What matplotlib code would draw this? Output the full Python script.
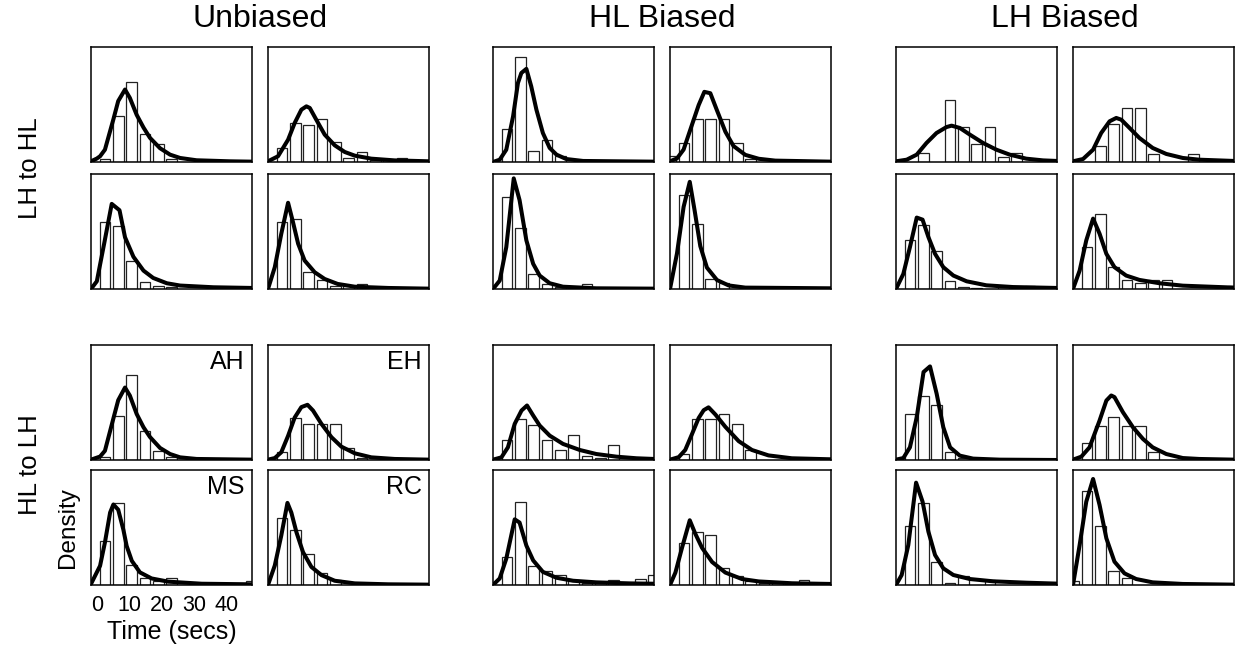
import matplotlib
matplotlib.use("Agg")
import matplotlib.pyplot as plt
import numpy as np

plt.rcParams['font.family'] = ['Liberation Sans', 'DejaVu Sans']

# ---------------- data ----------------
column_groups = ["Unbiased", "HL Biased", "LH Biased"]
row_groups = ["LH to HL", "HL to LH"]
subjects = ["AH", "EH", "MS", "RC"]          # 2x2 layout inside each block
x_ticks = [0, 10, 20, 30, 40]
x_label = "Time (secs)"
y_label = "Density"

# histogram bins (secs): bin index -1 .. 11
bin_width = 4.12
bin_centers = [2.5 + bin_width * k for k in range(-1, 12)]

# bar heights (relative density), one 13-value list per subject [AH, EH, MS, RC]
unbiased_lh_hl_bars = [
    [0, 0.03, 0.40, 0.70, 0.24, 0.16, 0.03, 0, 0, 0, 0, 0, 0],
    [0, 0.12, 0.34, 0.32, 0.37, 0.17, 0.035, 0.087, 0.02, 0.014, 0.035, 0, 0],
    [0, 0.58, 0.55, 0.245, 0.06, 0.03, 0.015, 0, 0, 0, 0.015, 0, 0],
    [0, 0.58, 0.61, 0.15, 0.08, 0.03, 0.03, 0.04, 0, 0, 0, 0, 0],
]
unbiased_hl_lh_bars = [
    [0, 0.03, 0.38, 0.74, 0.25, 0.076, 0.023, 0, 0, 0, 0, 0, 0],
    [0, 0.073, 0.366, 0.314, 0.314, 0.314, 0.105, 0.02, 0, 0, 0, 0, 0],
    [0, 0.38, 0.71, 0.175, 0.057, 0.037, 0.057, 0, 0, 0, 0, 0, 0.037],
    [0, 0.585, 0.48, 0.27, 0.106, 0.043, 0, 0, 0, 0, 0, 0, 0],
]
hlbiased_lh_hl_bars = [
    [0, 0.29, 0.913, 0.096, 0.194, 0.05, 0, 0, 0, 0, 0, 0, 0],
    [0.053, 0.161, 0.372, 0.372, 0.372, 0.161, 0.022, 0, 0, 0, 0, 0, 0],
    [0, 0.796, 0.534, 0.131, 0.044, 0.015, 0, 0.044, 0, 0, 0, 0, 0],
    [0, 0.817, 0.565, 0.09, 0.053, 0, 0, 0, 0, 0, 0, 0, 0],
]
hlbiased_hl_lh_bars = [
    [0, 0.177, 0.358, 0.308, 0.177, 0.087, 0.218, 0.038, 0.017, 0.131, 0, 0, 0],
    [0, 0.05, 0.356, 0.356, 0.40, 0.313, 0.087, 0, 0, 0, 0, 0, 0],
    [0, 0.243, 0.723, 0.163, 0.123, 0.086, 0.043, 0.014, 0.014, 0.04, 0.014, 0.05, 0.086],
    [0, 0.369, 0.458, 0.431, 0.148, 0.077, 0.037, 0.02, 0.02, 0.02, 0.046, 0, 0],
]
lhbiased_lh_hl_bars = [
    [0, 0, 0.075, 0, 0.536, 0.307, 0.154, 0.307, 0.04, 0.075, 0, 0, 0],
    [0, 0, 0.136, 0.33, 0.47, 0.47, 0.07, 0, 0, 0.07, 0, 0, 0],
    [0, 0.429, 0.56, 0.33, 0.067, 0.02, 0.01, 0, 0.03, 0, 0.03, 0, 0],
    [0, 0.364, 0.65, 0.195, 0.082, 0.052, 0.082, 0.082, 0, 0, 0, 0, 0.023],
]
lhbiased_hl_lh_bars = [
    [0, 0.40, 0.56, 0.48, 0.073, 0.015, 0, 0, 0, 0, 0, 0, 0],
    [0, 0.145, 0.30, 0.378, 0.30, 0.30, 0.073, 0, 0, 0, 0, 0, 0],
    [0, 0.516, 0.716, 0.203, 0.02, 0.081, 0, 0.046, 0, 0, 0, 0, 0],
    [0.035, 0.817, 0.516, 0.125, 0.064, 0, 0, 0, 0, 0, 0, 0, 0],
]

# fitted density curves: time points (secs) and density values per subject
unbiased_lh_hl_curve_t = [
    [-1.8, 0, 1.0, 2.5, 5.1, 6.6, 8.7, 10.2, 12.3, 14.4, 16.4, 19.5, 22.6, 25.7, 30.8, 41.1, 48],
    [-1.8, 1.3, 4.4, 6.45, 8.5, 10.05, 11.1, 13.1, 15.7, 18.8, 21.9, 25, 30.1, 37.3, 48],
    [-1.8, 0, 2.3, 4.6, 7.0, 8.7, 11.3, 14.4, 17.4, 21.6, 25.7, 36, 48],
    [-1.8, 0.3, 2.3, 4.4, 5.9, 7.5, 9.5, 12.6, 15.7, 19.7, 25, 35.3, 48],
]
unbiased_lh_hl_curve_d = [
    [0.006, 0.03, 0.05, 0.107, 0.37, 0.53, 0.63, 0.557, 0.41, 0.30, 0.21, 0.12, 0.064, 0.035, 0.015, 0.006, 0.003],
    [0.006, 0.05, 0.194, 0.34, 0.455, 0.484, 0.47, 0.368, 0.238, 0.145, 0.087, 0.055, 0.029, 0.014, 0.006],
    [0, 0.067, 0.40, 0.74, 0.685, 0.45, 0.28, 0.16, 0.096, 0.05, 0.03, 0.015, 0.009],
    [0, 0.19, 0.48, 0.75, 0.583, 0.394, 0.248, 0.146, 0.087, 0.044, 0.02, 0.009, 0.003],
]
unbiased_hl_lh_curve_t = [
    [-1.8, 1.0, 2.5, 5.1, 6.6, 8.7, 10.2, 12.3, 14.4, 16.4, 19.5, 22.6, 25.7, 30.8, 48],
    [-1.8, 0.3, 2.3, 4.4, 6.45, 8.5, 10.4, 12.1, 14.7, 17.8, 20.85, 25, 30.1, 37.3, 48],
    [-1.8, 1.0, 2.5, 4.1, 5.1, 6.6, 8.2, 9.2, 10.8, 13.3, 16.9, 22.1, 32.4, 47.8],
    [-1.8, 0.3, 2.3, 4.2, 5.4, 7.0, 9.0, 11.6, 14.7, 18.8, 25, 35.3, 48],
]
unbiased_hl_lh_curve_d = [
    [0.003, 0.03, 0.08, 0.36, 0.52, 0.63, 0.56, 0.40, 0.285, 0.20, 0.105, 0.052, 0.023, 0.009, 0.003],
    [0.003, 0.017, 0.067, 0.21, 0.37, 0.46, 0.48, 0.43, 0.314, 0.198, 0.116, 0.058, 0.023, 0.009, 0.003],
    [0.009, 0.167, 0.37, 0.63, 0.70, 0.655, 0.48, 0.34, 0.21, 0.11, 0.057, 0.029, 0.011, 0.006],
    [0, 0.17, 0.43, 0.714, 0.63, 0.457, 0.286, 0.157, 0.086, 0.037, 0.014, 0.006, 0.003],
]
hlbiased_lh_hl_curve_t = [
    [-1.8, 0.27, 2.3, 4.4, 5.9, 6.95, 8.5, 10.0, 11.6, 13.6, 15.7, 17.8, 20.8, 26, 47.9],
    [-1.8, 0.36, 2.4, 5.0, 7.05, 8.8, 10.65, 12.7, 15.3, 17.8, 21.45, 25.6, 30.7, 47.9],
    [-1.8, 0.27, 2.3, 4.6, 6.4, 8.5, 10.6, 12.6, 15.7, 19.8, 30.1, 47.9],
    [-1.8, 0.36, 2.4, 4.3, 5.8, 7.55, 9.6, 12.7, 16.3, 21.45, 47.9],
]
hlbiased_lh_hl_curve_d = [
    [0, 0.02, 0.107, 0.397, 0.687, 0.774, 0.81, 0.658, 0.455, 0.252, 0.122, 0.064, 0.026, 0.009, 0.003],
    [0.006, 0.031, 0.108, 0.325, 0.495, 0.61, 0.598, 0.449, 0.263, 0.139, 0.062, 0.028, 0.012, 0.003],
    [0, 0.073, 0.364, 0.962, 0.773, 0.423, 0.219, 0.117, 0.05, 0.02, 0.006, 0.003],
    [0, 0.31, 0.714, 0.932, 0.683, 0.373, 0.186, 0.078, 0.031, 0.012, 0.006],
]
hlbiased_hl_lh_curve_t = [
    [-1.8, 0.8, 2.8, 4.9, 7.0, 8.7, 10.6, 12.6, 15.7, 19.8, 25, 30.1, 36.3, 42.5, 47.9],
    [-1.8, 0.9, 2.9, 5.0, 7.05, 8.6, 10.1, 12.2, 15.3, 19.4, 23.5, 28.6, 35.8, 47.9],
    [-1.8, 0.27, 2.3, 4.9, 6.4, 8.5, 10.6, 13.6, 17.8, 22.9, 30.1, 40.4, 47.9],
    [-1.8, -0.13, 1.9, 4.3, 6.0, 8.1, 11.2, 15.3, 20.4, 25.6, 35.9, 47.9],
]
hlbiased_hl_lh_curve_d = [
    [0.003, 0.023, 0.11, 0.314, 0.43, 0.474, 0.387, 0.30, 0.212, 0.14, 0.087, 0.052, 0.029, 0.015, 0.009],
    [0.003, 0.025, 0.087, 0.226, 0.365, 0.433, 0.458, 0.396, 0.288, 0.164, 0.087, 0.04, 0.015, 0.006],
    [0, 0.057, 0.229, 0.571, 0.543, 0.343, 0.214, 0.114, 0.063, 0.037, 0.023, 0.014, 0.011],
    [0, 0.108, 0.323, 0.563, 0.446, 0.323, 0.2, 0.108, 0.052, 0.031, 0.015, 0.009],
]
lhbiased_lh_hl_curve_t = [
    [-1.8, 1.5, 4.6, 7.6, 10.7, 13.8, 15.35, 17.9, 21.0, 25.1, 29.2, 33.3, 38.4, 43.6, 47.9],
    [-1.8, 1.3, 4.4, 6.9, 9.5, 11.55, 13.1, 15.65, 18.7, 22.8, 27, 32.1, 37.2, 48],
    [-1.8, 0.46, 2.5, 4.6, 6.4, 8.2, 10.25, 12.8, 15.9, 20, 26.1, 34.3, 47.9],
    [-1.8, 0.25, 2.3, 4.4, 6.4, 8.5, 11.0, 14.6, 18.7, 24.9, 32.1, 48],
]
lhbiased_lh_hl_curve_d = [
    [0.006, 0.02, 0.064, 0.165, 0.252, 0.304, 0.316, 0.296, 0.238, 0.165, 0.107, 0.064, 0.029, 0.014, 0.009],
    [0.006, 0.026, 0.107, 0.252, 0.354, 0.383, 0.368, 0.296, 0.209, 0.122, 0.07, 0.035, 0.02, 0.009],
    [0, 0.131, 0.364, 0.621, 0.603, 0.452, 0.306, 0.19, 0.117, 0.067, 0.032, 0.017, 0.009],
    [0, 0.16, 0.423, 0.612, 0.481, 0.306, 0.19, 0.117, 0.079, 0.05, 0.029, 0.012],
]
lhbiased_hl_lh_curve_t = [
    [-1.8, 0.46, 2.5, 4.6, 6.7, 8.7, 10.75, 12.8, 14.9, 17.9, 22, 30.2, 47.9],
    [-1.8, 0.77, 3.3, 6.4, 8.5, 10, 11.0, 13.6, 16.7, 19.8, 22.8, 27, 32.1, 37.2, 48],
    [-1.8, -0.05, 2.0, 4.4, 6.4, 8.2, 10.25, 12.8, 15.9, 21, 28.2, 38.5, 47.9],
    [-1.8, 0.25, 2.3, 4.4, 6.4, 8.5, 11, 14.1, 17.7, 22.8, 32.1, 48],
]
lhbiased_hl_lh_curve_d = [
    [0.003, 0.017, 0.11, 0.372, 0.765, 0.814, 0.576, 0.285, 0.11, 0.038, 0.012, 0.003, 0],
    [0.003, 0.029, 0.11, 0.343, 0.517, 0.561, 0.547, 0.416, 0.285, 0.183, 0.11, 0.052, 0.017, 0.009, 0.003],
    [0, 0.087, 0.348, 0.89, 0.725, 0.464, 0.261, 0.145, 0.087, 0.052, 0.032, 0.02, 0.012],
    [0, 0.348, 0.725, 0.922, 0.696, 0.406, 0.203, 0.101, 0.052, 0.023, 0.009, 0.003],
]

blocks = {
    (0, 0): (unbiased_lh_hl_bars, unbiased_lh_hl_curve_t, unbiased_lh_hl_curve_d),
    (0, 1): (unbiased_hl_lh_bars, unbiased_hl_lh_curve_t, unbiased_hl_lh_curve_d),
    (1, 0): (hlbiased_lh_hl_bars, hlbiased_lh_hl_curve_t, hlbiased_lh_hl_curve_d),
    (1, 1): (hlbiased_hl_lh_bars, hlbiased_hl_lh_curve_t, hlbiased_hl_lh_curve_d),
    (2, 0): (lhbiased_lh_hl_bars, lhbiased_lh_hl_curve_t, lhbiased_lh_hl_curve_d),
    (2, 1): (lhbiased_hl_lh_bars, lhbiased_hl_lh_curve_t, lhbiased_hl_lh_curve_d),
}

# ---------------- layout (pixels) ----------------
W, H = 1236, 647
fig = plt.figure(figsize=(W / 100, H / 100), dpi=100)
col_left = [91, 268, 493, 670, 896, 1073]
row_top = [47, 174, 345, 470]
pw, ph = 161, 115

def add_panel(cx, ry):
    l = col_left[cx]
    t = row_top[ry]
    return fig.add_axes([l / W, 1 - (t + ph) / H, pw / W, ph / H])

for (cg, rg), (bars, ct, cd) in blocks.items():
    for si, subj in enumerate(subjects):
        cx = cg * 2 + si % 2
        ry = rg * 2 + si // 2
        ax = add_panel(cx, ry)
        h = np.array(bars[si], dtype=float)
        c = np.array(bin_centers)
        m = h > 0
        ax.bar(c[m], h[m], width=bin_width * 0.8, facecolor='white',
               edgecolor='#222222', linewidth=0.9, zorder=2)
        ax.plot(ct[si], cd[si], color='black', linewidth=2.9,
                solid_capstyle='round', solid_joinstyle='round', zorder=3)
        ax.set_xlim(-1.8, 47.9)
        ax.set_ylim(0, 1)
        ax.set_yticks([])
        for sp in ax.spines.values():
            sp.set_linewidth(1.1)
            sp.set_zorder(5)
        if (cg, rg) == (0, 1):
            ax.text(0.955, 0.79, subj, transform=ax.transAxes, ha='right',
                    va='baseline', fontsize=18)
        if (cg, rg, si) == (0, 1, 2):
            ax.set_xticks(x_ticks)
            ax.set_xticklabels([str(v) for v in x_ticks], fontsize=15.5)
            ax.tick_params(axis='x', length=0, pad=7)
            label_x = (col_left[cx] + pw / 2) / W
            fig.text(label_x, 1 - 632 / H, x_label, ha='center', va='center',
                     fontsize=18)
            fig.text(68 / W, 1 - (row_top[ry] + ph / 2) / H, y_label,
                     ha='center', va='center', rotation=90, fontsize=17.5)
        else:
            ax.set_xticks([])

# column group titles
for gi, name in enumerate(column_groups):
    xc = (col_left[gi * 2] + col_left[gi * 2 + 1] + pw) / 2
    fig.text(xc / W, 1 - 19 / H, name, ha='center', va='center', fontsize=23)

# row group labels
for gi, name in enumerate(row_groups):
    yc = (row_top[gi * 2] + row_top[gi * 2 + 1] + ph) / 2
    fig.text(30 / W, 1 - yc / H, name, ha='center', va='center',
             rotation=90, fontsize=18.5)

fig.savefig("out.png", dpi=100)
